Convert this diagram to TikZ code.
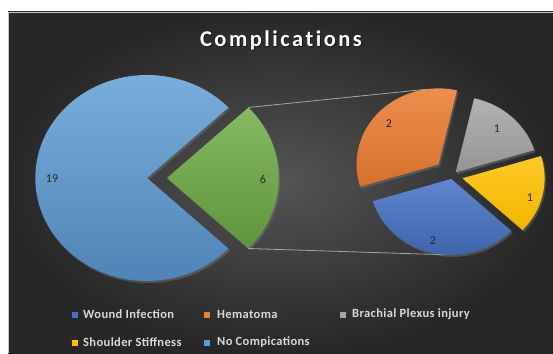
\documentclass[tikz,border=0pt]{standalone}
\usepackage{fontspec}
\setmainfont{Carlito}
\usetikzlibrary{shadows}

\definecolor{bgmid}{HTML}{545454}
\definecolor{bgedge}{HTML}{272727}
\definecolor{legendgray}{HTML}{D9D9D9}
\definecolor{nocompl}{HTML}{5B9BD5}
\definecolor{woundblue}{HTML}{4472C4}
\definecolor{hemaorange}{HTML}{ED7D31}
\definecolor{plexgray}{HTML}{A5A5A5}
\definecolor{stiffyellow}{HTML}{FFC000}
\definecolor{restgreen}{HTML}{70AD47}

\newcommand{\titlefont}{\bfseries\fontsize{22.5}{26}\selectfont\addfontfeature{LetterSpace=11,Ligatures=NoCommon}}

\tikzset{
  slice/.style={drop shadow={opacity=0.4,shadow xshift=1.5pt,shadow yshift=-2pt}},
  datalbl/.style={font=\fontsize{12}{14}\selectfont, text=black!85, inner sep=1pt},
  legkey/.style={minimum size=6.5pt, inner sep=0pt},
  legtext/.style={anchor=west, inner sep=0pt, text=legendgray,
    font=\bfseries\fontsize{12.5}{14}\selectfont\addfontfeature{LetterSpace=3}},
  zoomline/.style={draw=gray!70, line width=0.8pt},
}

\begin{document}
\begin{tikzpicture}[x=1pt,y=-1pt]
  \useasboundingbox (0,0) rectangle (553,353);
  \fill[white] (0,0) rectangle (553,353);
  % chart area
  \shade[inner color=bgmid, outer color=bgedge] (8,12) rectangle (553,353);
  \draw[gray!45] (8,353) -- (8,12) -- (553,12);

  % title
  \node[font=\titlefont, text=black, opacity=0.5] at (282,41) {Complications};
  \node[font=\titlefont, text=white] (title) at (281,40) {Complications};

  % first pie
  \begin{scope}[shift={(147,178)},xscale=1.085,yscale=-1]
    \path[slice, top color=nocompl!80!white, bottom color=nocompl!85!black]
      (0,0) -- (43.2:103) arc[start angle=43.2, end angle=316.8, radius=103] -- cycle;
  \end{scope}
  \begin{scope}[shift={(167,178)},xscale=1.085,yscale=-1]
    \path[slice, top color=restgreen!85!white, bottom color=restgreen!85!black]
      (0,0) -- (-43.2:103) arc[start angle=-43.2, end angle=43.2, radius=103] -- cycle;
    \coordinate (gtop) at (43.2:103);
    \coordinate (gbot) at (-43.2:103);
  \end{scope}
  \node[datalbl] (nnone) at (52,179) {19};
  \node[datalbl] (nrest) at (263,179) {6};

  % second pie
  \begin{scope}[shift={(452,176)},xscale=1.08,yscale=-1]
    \begin{scope}[shift={(137:17)}]
      \coordinate (otop) at (99:76);
    \end{scope}
    \begin{scope}[shift={(257:3)}]
      \coordinate (bbot) at (267:76);
    \end{scope}
  \end{scope}

  % connectors
  \draw[zoomline] (gtop) -- (otop);
  \draw[zoomline] (gbot) -- (bbot);

  \begin{scope}[shift={(452,176)},xscale=1.08,yscale=-1]
    \path[slice, shift={(137:17)}, top color=hemaorange!85!white, bottom color=hemaorange!90!black]
      (0,0) -- (77:76) arc[start angle=77, end angle=197, radius=76] -- cycle;
    \path[slice, shift={(257:3)}, top color=woundblue!85!white, bottom color=woundblue!85!black]
      (0,0) -- (197:76) arc[start angle=197, end angle=317, radius=76] -- cycle;
    \path[slice, shift={(347:10)}, top color=stiffyellow!85!white, bottom color=stiffyellow!95!black]
      (0,0) -- (317:76) arc[start angle=317, end angle=377, radius=76] -- cycle;
    \path[slice, shift={(47:5)}, top color=plexgray!85!white, bottom color=plexgray!90!black]
      (0,0) -- (17:76) arc[start angle=17, end angle=77, radius=76] -- cycle;
  \end{scope}
  \node[datalbl] (nhema) at (389,124) {2};
  \node[datalbl] (nplex) at (497,129) {1};
  \node[datalbl] (nstiff) at (530,198) {1};
  \node[datalbl] (nwound) at (433,241) {2};

  % legend
  \node[legkey, fill=woundblue] (kwound) at (75,315) {};
  \node[legtext] (twound) at (83,314) {Wound Infection};
  \node[legkey, fill=hemaorange] (khema) at (207,315) {};
  \node[legtext] (thema) at (217,314) {Hematoma};
  \node[legkey, fill=plexgray] (kplex) at (343,315) {};
  \node[legtext] (tplex) at (352,314) {Brachial Plexus injury};
  \node[legkey, fill=stiffyellow] (kstiff) at (75,343) {};
  \node[legtext] (tstiff) at (83,342) {Shoulder Stiffness};
  \node[legkey, fill=nocompl] (knone) at (207,343) {};
  \node[legtext] (tnone) at (217,342) {No Compications};
\end{tikzpicture}
\end{document}
